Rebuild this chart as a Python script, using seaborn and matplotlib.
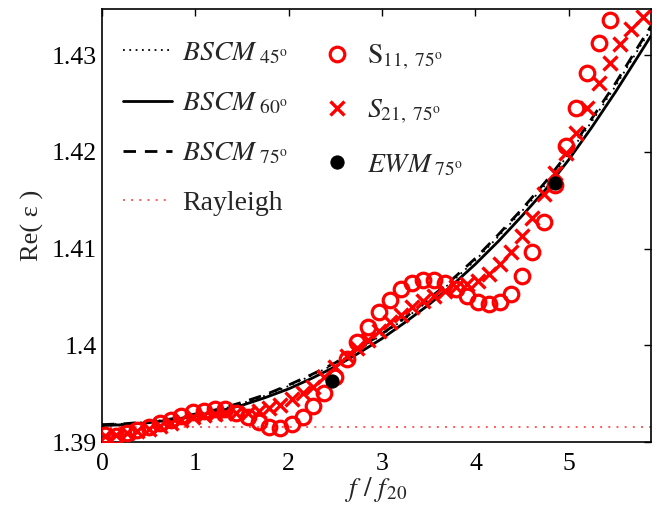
import matplotlib
matplotlib.use("Agg")
import matplotlib.pyplot as plt
import seaborn as sns
import pandas as pd
from matplotlib.ticker import FormatStrFormatter, FixedLocator

# ---------------- data ----------------
f_curve = [0.00, 0.25, 0.50, 0.75, 1.00, 1.25, 1.50, 1.75, 2.00, 2.25, 2.50, 2.75,
           3.00, 3.25, 3.50, 3.75, 4.00, 4.25, 4.50, 4.75, 5.00, 5.25, 5.50, 5.75, 5.88]
bscm_45 = [1.3918, 1.3919, 1.3921, 1.3924, 1.3928, 1.3933, 1.3940, 1.3948, 1.3958, 1.3969,
           1.3981, 1.3995, 1.4011, 1.4028, 1.4046, 1.4066, 1.4088, 1.4113, 1.4139, 1.4166,
           1.4198, 1.4232, 1.4268, 1.4307, 1.4327]
bscm_60 = [1.3917, 1.3918, 1.3920, 1.3923, 1.3927, 1.3932, 1.3938, 1.3946, 1.3955, 1.3966,
           1.3978, 1.3992, 1.4007, 1.4024, 1.4042, 1.4062, 1.4084, 1.4108, 1.4134, 1.4161,
           1.4192, 1.4226, 1.4262, 1.4300, 1.4320]
bscm_75 = [1.3918, 1.3919, 1.3921, 1.3924, 1.3929, 1.3934, 1.3941, 1.3949, 1.3959, 1.3970,
           1.3982, 1.3997, 1.4012, 1.4029, 1.4048, 1.4068, 1.4090, 1.4115, 1.4141, 1.4169,
           1.4200, 1.4235, 1.4271, 1.4310, 1.4330]

f_ray = [0.0, 5.88]
rayleigh = [1.3916, 1.3916]

f_meas = [0.03, 0.15, 0.27, 0.38, 0.50, 0.62, 0.74, 0.85, 0.97, 1.09, 1.21, 1.32, 1.44,
          1.56, 1.68, 1.79, 1.91, 2.03, 2.15, 2.26, 2.38, 2.50, 2.62, 2.73, 2.85, 2.97,
          3.09, 3.20, 3.32, 3.44, 3.56, 3.67, 3.79, 3.91, 4.03, 4.14, 4.26, 4.38, 4.50,
          4.61, 4.73, 4.85, 4.97, 5.08, 5.20, 5.32, 5.44, 5.55, 5.67, 5.79]
s11 = [1.3907, 1.3906, 1.3909, 1.3912, 1.3916, 1.3920, 1.3923, 1.3927, 1.3931, 1.3932,
       1.3934, 1.3934, 1.3930, 1.3926, 1.3921, 1.3916, 1.3915, 1.3919, 1.3926, 1.3937,
       1.3951, 1.3967, 1.3986, 1.4003, 1.4019, 1.4034, 1.4047, 1.4058, 1.4064, 1.4068,
       1.4068, 1.4064, 1.4058, 1.4051, 1.4045, 1.4043, 1.4045, 1.4053, 1.4072, 1.4097,
       1.4128, 1.4166, 1.4206, 1.4245, 1.4282, 1.4313, 1.4336]
s21 = [1.3906, 1.3907, 1.3909, 1.3911, 1.3914, 1.3917, 1.3920, 1.3923, 1.3926, 1.3928,
       1.3929, 1.3930, 1.3930, 1.3930, 1.3932, 1.3935, 1.3938, 1.3944, 1.3951, 1.3957,
       1.3967, 1.3978, 1.3989, 1.3997, 1.4005, 1.4015, 1.4024, 1.4031, 1.4040, 1.4046,
       1.4051, 1.4056, 1.4060, 1.4063, 1.4067, 1.4074, 1.4084, 1.4097, 1.4113, 1.4132,
       1.4156, 1.4178, 1.4199, 1.4220, 1.4245, 1.4271, 1.4292, 1.4312, 1.4327, 1.4340]

f_ewm = [2.46, 4.85]
ewm = [1.3963, 1.4168]

x_ticks = [0, 1, 2, 3, 4, 5]
y_ticks = [1.39, 1.40, 1.41, 1.42, 1.43]

# ---------------- style ----------------
sns.set_theme(style="white")
plt.rcParams["font.family"] = ["Liberation Serif", "DejaVu Serif"]
plt.rcParams["mathtext.fontset"] = "stix"
plt.rcParams["axes.unicode_minus"] = False

fig = plt.figure(figsize=(6.58, 5.14), dpi=100)
ax = fig.add_axes([0.155, 0.140, 0.8343, 0.8425])

df_curve = pd.DataFrame({"f": f_curve, "b45": bscm_45, "b60": bscm_60, "b75": bscm_75})
df_ray = pd.DataFrame({"f": f_ray, "r": rayleigh})
df_s11 = pd.DataFrame({"f": f_meas[:len(s11)], "s": s11})
df_s21 = pd.DataFrame({"f": f_meas[:len(s21)], "s": s21})
df_ewm = pd.DataFrame({"f": f_ewm, "e": ewm})

sns.lineplot(data=df_ray, x="f", y="r", ax=ax, color="#ff5a5a", lw=1.4,
             linestyle=(0, (1, 3.2)), estimator=None, sort=False)
sns.lineplot(data=df_curve, x="f", y="b45", ax=ax, color="black", lw=1.3,
             linestyle=(0, (1, 2.5)), estimator=None, sort=False)
sns.lineplot(data=df_curve, x="f", y="b60", ax=ax, color="black", lw=2.0,
             linestyle="-", estimator=None, sort=False)
sns.lineplot(data=df_curve, x="f", y="b75", ax=ax, color="black", lw=2.0,
             linestyle=(0, (4.5, 3.2)), estimator=None, sort=False)
sns.lineplot(data=df_s11, x="f", y="s", ax=ax, linestyle="", marker="o", ms=10.5,
             mfc="none", mec="red", mew=2.3, color="red", estimator=None, sort=False)
sns.lineplot(data=df_s21, x="f", y="s", ax=ax, linestyle="", marker="x", ms=10,
             mec="red", mew=2.4, color="red", estimator=None, sort=False)
sns.lineplot(data=df_ewm, x="f", y="e", ax=ax, linestyle="", marker="o", ms=9.5,
             mfc="black", mec="black", color="black", estimator=None, sort=False)

lines = ax.get_lines()
h_ray, h45, h60, h75, h11, h21, hewm = lines[:7]
for h in (h11, h21):
    h.set_zorder(3)
hewm.set_zorder(4)

ax.set_xlim(0, 5.88)
ax.set_ylim(1.39, 1.43478)
ax.xaxis.set_major_locator(FixedLocator(x_ticks))
ax.yaxis.set_major_locator(FixedLocator(y_ticks))
ax.yaxis.set_major_formatter(FormatStrFormatter("%g"))
ax.xaxis.set_major_formatter(FormatStrFormatter("%g"))
ax.tick_params(direction="in", length=5, width=1, top=True, right=True,
               labelsize=18.5, colors="black")
ax.tick_params(axis="x", pad=8)
ax.tick_params(axis="y", pad=4)
for s in ax.spines.values():
    s.set_color("black")
    s.set_linewidth(1.2)

ax.set_xlabel(r"$f\ /\ f_{\,20}$", fontsize=19.5, labelpad=0)
ax.set_ylabel("Re( ε )", fontsize=19, labelpad=5)

fs = 20
leg1 = ax.legend(handles=[h45, h60, h75, h_ray],
                 labels=[r"$\mathit{BSCM}_{\ 45^{\rm o}}$",
                         r"$\mathit{BSCM}_{\ 60^{\rm o}}$",
                         r"$\mathit{BSCM}_{\ 75^{\rm o}}$",
                         "Rayleigh"],
                 loc="upper left", bbox_to_anchor=(0.038, 0.927), frameon=False,
                 fontsize=fs, handlelength=1.76, handletextpad=0.36,
                 labelspacing=0.88, borderpad=0, borderaxespad=0)
ax.add_artist(leg1)
leg2 = ax.legend(handles=[h11, h21, hewm],
                 labels=[r"$\mathrm{S}_{11,\ 75^{\rm o}}$",
                         r"$S_{21,\ 75^{\rm o}}$",
                         r"$\mathit{EWM}_{\ 75^{\rm o}}$"],
                 loc="upper left", bbox_to_anchor=(0.397, 0.923), frameon=False,
                 fontsize=fs, handlelength=1.2, handletextpad=0.5,
                 labelspacing=0.95, borderpad=0, borderaxespad=0)

fig.savefig("out.png", dpi=100)
